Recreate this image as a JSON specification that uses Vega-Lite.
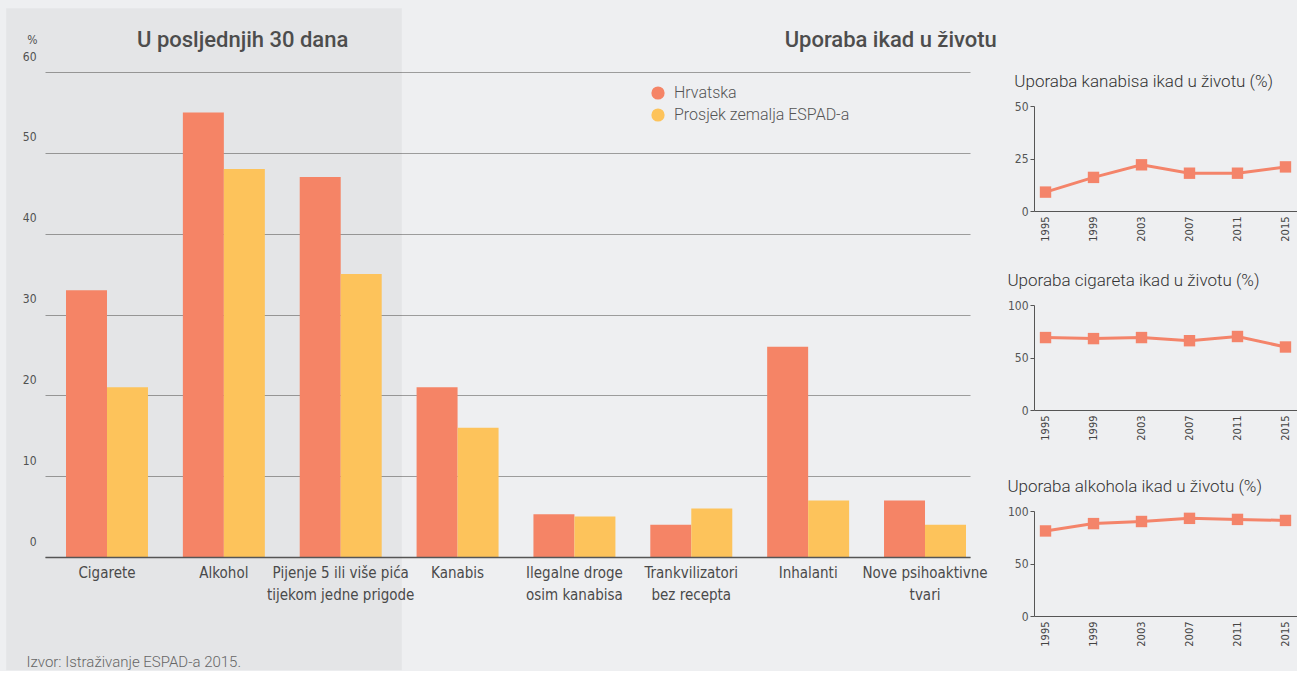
{
  "$schema": "https://vega.github.io/schema/vega-lite/v6.json",
  "background": "#eeeff1",
  "padding": {"left": 6, "top": 8, "right": 0, "bottom": 0},
  "datasets": {
    "glavni": [
      {"kategorija": "Cigarete", "skupina": "Hrvatska", "postotak": 33},
      {"kategorija": "Cigarete", "skupina": "Prosjek zemalja ESPAD-a", "postotak": 21},
      {"kategorija": "Alkohol", "skupina": "Hrvatska", "postotak": 55},
      {"kategorija": "Alkohol", "skupina": "Prosjek zemalja ESPAD-a", "postotak": 48},
      {"kategorija": "Pijenje 5 ili više pića|tijekom jedne prigode", "skupina": "Hrvatska", "postotak": 47},
      {"kategorija": "Pijenje 5 ili više pića|tijekom jedne prigode", "skupina": "Prosjek zemalja ESPAD-a", "postotak": 35},
      {"kategorija": "Kanabis", "skupina": "Hrvatska", "postotak": 21},
      {"kategorija": "Kanabis", "skupina": "Prosjek zemalja ESPAD-a", "postotak": 16},
      {"kategorija": "Ilegalne droge|osim kanabisa", "skupina": "Hrvatska", "postotak": 5.3},
      {"kategorija": "Ilegalne droge|osim kanabisa", "skupina": "Prosjek zemalja ESPAD-a", "postotak": 5},
      {"kategorija": "Trankvilizatori|bez recepta", "skupina": "Hrvatska", "postotak": 4},
      {"kategorija": "Trankvilizatori|bez recepta", "skupina": "Prosjek zemalja ESPAD-a", "postotak": 6},
      {"kategorija": "Inhalanti", "skupina": "Hrvatska", "postotak": 26},
      {"kategorija": "Inhalanti", "skupina": "Prosjek zemalja ESPAD-a", "postotak": 7},
      {"kategorija": "Nove psihoaktivne|tvari", "skupina": "Hrvatska", "postotak": 7},
      {"kategorija": "Nove psihoaktivne|tvari", "skupina": "Prosjek zemalja ESPAD-a", "postotak": 4}
    ],
    "trend": [
      {"tvar": "kanabis", "godina": "1995", "postotak": 9},
      {"tvar": "kanabis", "godina": "1999", "postotak": 16},
      {"tvar": "kanabis", "godina": "2003", "postotak": 22},
      {"tvar": "kanabis", "godina": "2007", "postotak": 18},
      {"tvar": "kanabis", "godina": "2011", "postotak": 18},
      {"tvar": "kanabis", "godina": "2015", "postotak": 21},
      {"tvar": "cigarete", "godina": "1995", "postotak": 69},
      {"tvar": "cigarete", "godina": "1999", "postotak": 68},
      {"tvar": "cigarete", "godina": "2003", "postotak": 69},
      {"tvar": "cigarete", "godina": "2007", "postotak": 66},
      {"tvar": "cigarete", "godina": "2011", "postotak": 70},
      {"tvar": "cigarete", "godina": "2015", "postotak": 60},
      {"tvar": "alkohol", "godina": "1995", "postotak": 81},
      {"tvar": "alkohol", "godina": "1999", "postotak": 88},
      {"tvar": "alkohol", "godina": "2003", "postotak": 90},
      {"tvar": "alkohol", "godina": "2007", "postotak": 93},
      {"tvar": "alkohol", "godina": "2011", "postotak": 92},
      {"tvar": "alkohol", "godina": "2015", "postotak": 91}
    ]
  },
  "spacing": 10,
  "hconcat": [
    {
      "width": 925,
      "height": 485,
      "data": {"name": "glavni"},
      "layer": [
        {
          "transform": [{"aggregate": [{"op": "count", "as": "n"}]}],
          "mark": {"type": "rect", "color": "#000000", "opacity": 0.038},
          "encoding": {
            "x": {"datum": "Cigarete", "type": "nominal", "bandPosition": -0.73},
            "x2": {"datum": "Pijenje 5 ili više pića|tijekom jedne prigode", "bandPosition": 1.246},
            "y": {"datum": 67.9, "type": "quantitative"},
            "y2": {"datum": -14}
          }
        },
        {
          "mark": {"type": "bar"},
          "encoding": {
            "x": {
              "field": "kategorija",
              "type": "nominal",
              "scale": {
                "domain": ["Cigarete", "Alkohol", "Pijenje 5 ili više pića|tijekom jedne prigode", "Kanabis", "Ilegalne droge|osim kanabisa", "Trankvilizatori|bez recepta", "Inhalanti", "Nove psihoaktivne|tvari"],
                "paddingInner": 0.2985,
                "paddingOuter": 0.107,
                "align": 0.84
              },
              "axis": {
                "bandPosition": 0.5,
                "title": "Izvor: Istraživanje ESPAD-a 2015.",
                "titleX": -19,
                "titleY": 104,
                "titleAlign": "left",
                "titleAnchor": "start",
                "titleBaseline": "middle",
                "titleFont": "Roboto",
                "titleFontWeight": 300,
                "titleFontSize": 15,
                "titleColor": "#666666",
                "labelExpr": "split(datum.label, '|')",
                "labelAngle": 0,
                "labelAlign": "center",
                "labelOverlap": false,
                "labelFont": "DejaVu Sans Condensed",
                "labelFontSize": 15,
                "labelColor": "#4a4a4a",
                "labelLineHeight": 22,
                "labelPadding": 8,
                "labelBaseline": "top",
                "ticks": false,
                "domainColor": "#555555",
                "domainWidth": 1.5,
                "grid": false
              }
            },
            "xOffset": {
              "field": "skupina",
              "type": "nominal",
              "sort": ["Hrvatska", "Prosjek zemalja ESPAD-a"],
              "scale": {"paddingInner": 0, "paddingOuter": 0}
            },
            "y": {
              "field": "postotak",
              "type": "quantitative",
              "scale": {"domain": [0, 60], "nice": false},
              "axis": {
                "title": "%",
                "titleAngle": 0,
                "titleX": -8,
                "titleY": -26,
                "titleAlign": "right",
                "titleBaseline": "bottom",
                "titleFont": "DejaVu Sans Condensed",
                "titleFontSize": 12,
                "titleFontWeight": "normal",
                "titleColor": "#555555",
                "values": [0, 10, 20, 30, 40, 50, 60],
                "grid": true,
                "gridColor": "#9c9c9c",
                "gridWidth": 1,
                "domain": false,
                "ticks": false,
                "labelPadding": 9,
                "labelBaseline": "bottom",
                "labelOffset": -9,
                "labelFont": "DejaVu Sans Condensed",
                "labelFontSize": 12,
                "labelColor": "#555555"
              }
            },
            "color": {
              "field": "skupina",
              "type": "nominal",
              "scale": {"domain": ["Hrvatska", "Prosjek zemalja ESPAD-a"], "range": ["#f58466", "#fdc35b"]},
              "legend": {
                "title": null,
                "orient": "none",
                "legendX": 605,
                "legendY": 13,
                "symbolType": "circle",
                "symbolSize": 175,
                "symbolStrokeWidth": 0,
                "symbolOpacity": 1,
                "labelFont": "Roboto",
                "labelFontWeight": 300,
                "labelFontSize": 16,
                "labelColor": "#555555",
                "labelOffset": 8,
                "labelLimit": 300,
                "rowPadding": 6,
                "padding": 0
              }
            }
          }
        },
        {
          "transform": [{"aggregate": [{"op": "count", "as": "n"}]}],
          "mark": {"type": "text", "font": "Roboto", "fontWeight": 500, "fontSize": 22, "color": "#4d4d4d", "align": "center", "baseline": "middle"},
          "encoding": {
            "x": {"datum": "Alkohol", "type": "nominal", "bandPosition": 0.73},
            "y": {"datum": 64, "type": "quantitative"},
            "text": {"value": "U posljednjih 30 dana"}
          }
        },
        {
          "transform": [{"aggregate": [{"op": "count", "as": "n"}]}],
          "mark": {"type": "text", "font": "Roboto", "fontWeight": 500, "fontSize": 22, "color": "#4d4d4d", "align": "center", "baseline": "middle"},
          "encoding": {
            "x": {"datum": "Nove psihoaktivne|tvari", "type": "nominal", "bandPosition": 0.082},
            "y": {"datum": 64, "type": "quantitative"},
            "text": {"value": "Uporaba ikad u životu"}
          }
        }
      ]
    },
    {
      "spacing": 0,
      "vconcat": [
        {
          "data": {"values": []},
          "width": 1,
          "height": 1,
          "mark": "point",
          "encoding": {}
        },
        {
          "spacing": 37,
          "vconcat": [
            {
              "spacing": 30,
              "vconcat": [
                {
                  "width": 263,
                  "height": 105,
                  "data": {"name": "trend"},
                  "transform": [{"filter": "datum.tvar === 'kanabis'"}],
                  "title": {"text": "Uporaba kanabisa ikad u životu (%)", "anchor": "start", "frame": "bounds", "baseline": "alphabetic", "offset": -4, "font": "Roboto", "fontWeight": 300, "fontSize": 17, "color": "#333333"},
                  "mark": {"type": "line", "color": "#f4846a", "strokeWidth": 3, "point": {"shape": "square", "size": 130, "filled": true, "opacity": 1, "color": "#f4846a"}},
                  "encoding": {
                    "x": {"field": "godina", "type": "ordinal", "scale": {"type": "point", "padding": 0.24}, "axis": {"title": null, "labelAngle": -90, "labelFont": "DejaVu Sans Condensed", "labelFontSize": 11, "labelColor": "#444444", "ticks": false, "domainColor": "#555555", "labelPadding": 5, "grid": false}},
                    "y": {"field": "postotak", "type": "quantitative", "scale": {"domain": [0, 50], "nice": false}, "axis": {"title": null, "values": [0, 25, 50], "grid": false, "domainColor": "#555555", "tickColor": "#555555", "tickSize": 4, "labelPadding": 2, "labelFont": "DejaVu Sans Condensed", "labelFontSize": 12, "labelColor": "#555555"}}
                  }
                },
                {
                  "width": 263,
                  "height": 105,
                  "data": {"name": "trend"},
                  "transform": [{"filter": "datum.tvar === 'cigarete'"}],
                  "title": {"text": "Uporaba cigareta ikad u životu (%)", "anchor": "start", "frame": "bounds", "baseline": "alphabetic", "offset": -4, "font": "Roboto", "fontWeight": 300, "fontSize": 17, "color": "#333333"},
                  "mark": {"type": "line", "color": "#f4846a", "strokeWidth": 3, "point": {"shape": "square", "size": 130, "filled": true, "opacity": 1, "color": "#f4846a"}},
                  "encoding": {
                    "x": {"field": "godina", "type": "ordinal", "scale": {"type": "point", "padding": 0.24}, "axis": {"title": null, "labelAngle": -90, "labelFont": "DejaVu Sans Condensed", "labelFontSize": 11, "labelColor": "#444444", "ticks": false, "domainColor": "#555555", "labelPadding": 5, "grid": false}},
                    "y": {"field": "postotak", "type": "quantitative", "scale": {"domain": [0, 100], "nice": false}, "axis": {"title": null, "values": [0, 50, 100], "grid": false, "domainColor": "#555555", "tickColor": "#555555", "tickSize": 4, "labelPadding": 2, "labelFont": "DejaVu Sans Condensed", "labelFontSize": 12, "labelColor": "#555555"}}
                  }
                }
              ]
            },
            {
              "width": 263,
              "height": 105,
              "data": {"name": "trend"},
              "transform": [{"filter": "datum.tvar === 'alkohol'"}],
              "title": {"text": "Uporaba alkohola ikad u životu (%)", "anchor": "start", "frame": "bounds", "baseline": "alphabetic", "offset": -4, "font": "Roboto", "fontWeight": 300, "fontSize": 17, "color": "#333333"},
              "mark": {"type": "line", "color": "#f4846a", "strokeWidth": 3, "point": {"shape": "square", "size": 130, "filled": true, "opacity": 1, "color": "#f4846a"}},
              "encoding": {
                "x": {"field": "godina", "type": "ordinal", "scale": {"type": "point", "padding": 0.24}, "axis": {"title": null, "labelAngle": -90, "labelFont": "DejaVu Sans Condensed", "labelFontSize": 11, "labelColor": "#444444", "ticks": false, "domainColor": "#555555", "labelPadding": 5, "grid": false}},
                "y": {"field": "postotak", "type": "quantitative", "scale": {"domain": [0, 100], "nice": false}, "axis": {"title": null, "values": [0, 50, 100], "grid": false, "domainColor": "#555555", "tickColor": "#555555", "tickSize": 4, "labelPadding": 2, "labelFont": "DejaVu Sans Condensed", "labelFontSize": 12, "labelColor": "#555555"}}
              }
            }
          ]
        }
      ]
    }
  ],
  "config": {
    "view": {"stroke": null},
    "font": "Roboto"
  }
}
